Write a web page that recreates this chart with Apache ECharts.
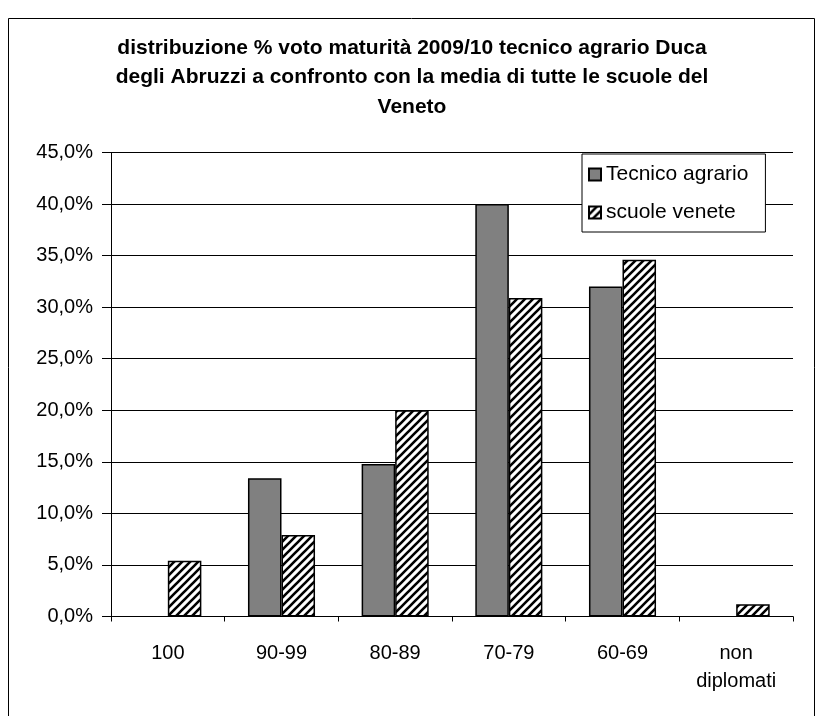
<!DOCTYPE html>
<html><head><meta charset="utf-8">
<script src="https://cdn.jsdelivr.net/npm/echarts@6/dist/echarts.min.js"></script>
<style>html,body{margin:0;padding:0;background:#fff}#c{width:824px;height:716px}</style>
</head><body><div id="c"></div>
<script>
const categories = ['100', '90-99', '80-89', '70-79', '60-69', 'non\ndiplomati'];
const tecnicoAgrario = [null, 13.4, 14.8, 40.0, 32.0, null];
const scuoleVenete = [5.4, 7.9, 20.0, 30.9, 34.6, 1.2];
const seriesNames = ['Tecnico agrario', 'scuole venete'];
const titleText = 'distribuzione % voto maturità 2009/10 tecnico agrario Duca\ndegli Abruzzi a confronto con la media di tutte le scuole del\nVeneto';

// hatch pattern
const pc = document.createElement('canvas');
pc.width = 8; pc.height = 8;
const g = pc.getContext('2d');
g.fillStyle = '#fff'; g.fillRect(0, 0, 8, 8);
g.strokeStyle = '#000'; g.lineWidth = 2.6;
g.beginPath();
g.moveTo(-2, 10); g.lineTo(10, -2);
g.moveTo(-6, 6); g.lineTo(6, -6);
g.moveTo(2, 14); g.lineTo(14, 2);
g.stroke();

const font = 'Liberation Sans, Arial, sans-serif';
const chart = echarts.init(document.getElementById('c'), null, {renderer: 'canvas'});
chart.setOption({
  animation: false,
  backgroundColor: '#fff',
  title: {
    text: titleText,
    left: 'center',
    top: 33,
    padding: 0,
    textStyle: {fontFamily: font, fontSize: 21, fontWeight: 'bold', color: '#000', lineHeight: 29.5}
  },
  graphic: [{
    type: 'rect', shape: {x: 8.5, y: 18.5, width: 806, height: 720},
    style: {fill: 'none', stroke: '#000', lineWidth: 1}, silent: true
  }],
  legend: {
    orient: 'vertical',
    left: 582, top: 154,
    backgroundColor: '#fff',
    borderColor: '#000', borderWidth: 1,
    padding: [10, 17, 9, 6],
    itemGap: 17,
    icon: 'rect',
    itemWidth: 12, itemHeight: 12,
    textStyle: {fontFamily: font, fontSize: 21, color: '#000'},
    data: seriesNames
  },
  grid: {left: 111, right: 31, top: 152.5, bottom: 99.5, containLabel: false},
  xAxis: {
    type: 'category',
    data: categories,
    axisLine: {lineStyle: {color: '#000', width: 1}},
    axisTick: {show: true, length: 5, lineStyle: {color: '#000'}},
    axisLabel: {fontFamily: font, fontSize: 20, color: '#000', margin: 23, lineHeight: 28}
  },
  yAxis: {
    type: 'value',
    min: 0, max: 45, interval: 5,
    axisLine: {show: true, lineStyle: {color: '#000', width: 1}},
    axisTick: {show: true, length: 9, lineStyle: {color: '#000'}},
    splitLine: {show: true, lineStyle: {color: '#000', width: 1}},
    axisLabel: {
      fontFamily: font, fontSize: 20, color: '#000', margin: 18,
      formatter: v => v.toFixed(1).replace('.', ',') + '%'
    }
  },
  series: [
    {
      name: seriesNames[0], type: 'bar', data: tecnicoAgrario,
      barGap: '0%', barCategoryGap: '41%',
      itemStyle: {color: '#808080', borderColor: '#000', borderWidth: 1.5}
    },
    {
      name: seriesNames[1], type: 'bar', data: scuoleVenete,
      itemStyle: {color: {image: pc, repeat: 'repeat'}, borderColor: '#000', borderWidth: 1.5}
    }
  ]
});
</script></body></html>
